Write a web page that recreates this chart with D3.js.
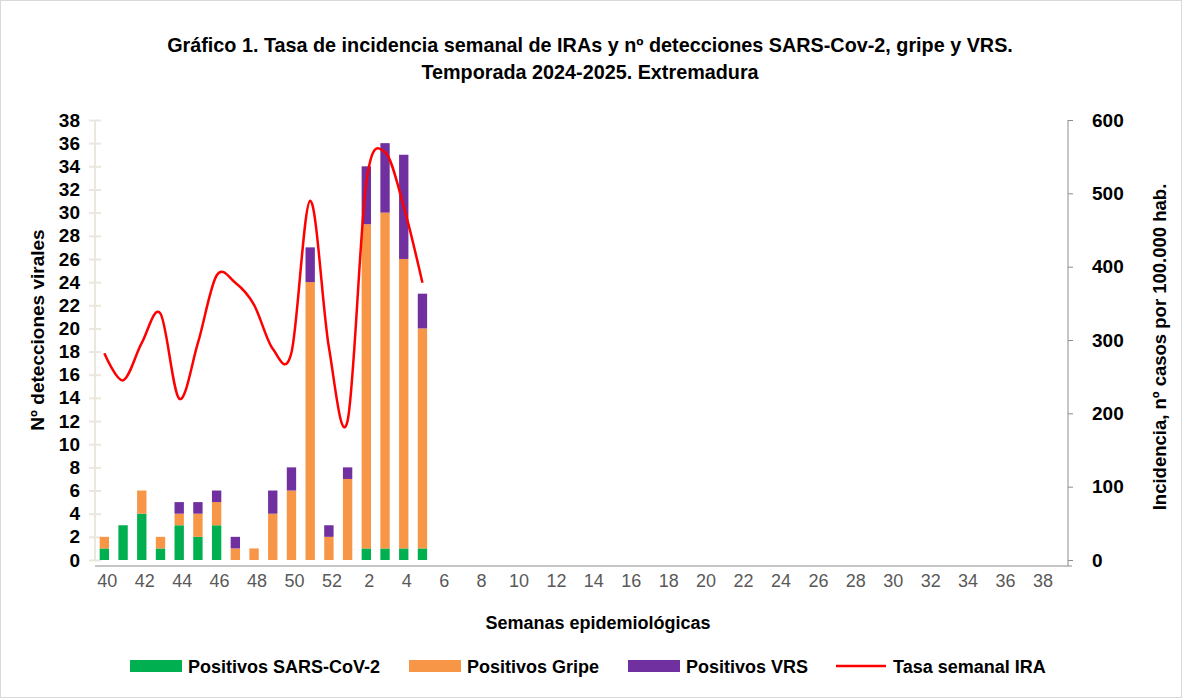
<!DOCTYPE html>
<html><head><meta charset="utf-8">
<script src="https://cdn.jsdelivr.net/npm/d3@7"></script>
<style>
html,body{margin:0;padding:0;background:#fff;}
svg{display:block;}
</style></head>
<body>
<script>
// ---- data ----
const weeks = ["40","41","42","43","44","45","46","47","48","49","50","51","52",
  "1","2","3","4","5","6","7","8","9","10","11","12","13","14","15","16","17","18","19","20",
  "21","22","23","24","25","26","27","28","29","30","31","32","33","34","35","36","37","38","39"];
const sars  = [1,3,4,1,3,2,3,0,0,0,0,0,0,0,1,1,1,1];
const gripe = [1,0,2,1,1,2,2,1,1,4,6,24,2,7,28,29,25,19];
const vrs   = [0,0,0,0,1,1,1,1,0,2,2,3,1,1,5,6,9,3];
const tasa  = [282,245,296,336,220,296,388,378,348,288,283,490,290,190,515,556,482,378];
const leftTicks = d3.range(0,40,2);
const rightTicks = [0,100,200,300,400,500,600];
const seriesNames = ["Positivos SARS-CoV-2","Positivos Gripe","Positivos VRS"];
const lineName = "Tasa semanal IRA";
const titleLines = ["Gráfico 1. Tasa de incidencia semanal de IRAs y nº detecciones SARS-Cov-2, gripe y VRS.",
                    "Temporada 2024-2025. Extremadura"];
const yLeftTitle = "Nº detecciones virales";
const yRightTitle = "Incidencia, nº casos por 100.000 hab.";
const xTitle = "Semanas epidemiológicas";

// ---- layout ----
const W = 1182, H = 698;
const colors = ["#00b050","#f79646","#7030a0"];
const lineColor = "#ff0000";
const FONT = "'Liberation Sans',Arial,sans-serif";
const x0 = 95, x1 = 1068, yTop = 120, yBot = 560;

const svg = d3.select("body").append("svg").attr("width",W).attr("height",H)
  .style("font-family",FONT);

svg.append("rect").attr("x",0.5).attr("y",0.5).attr("width",W-1).attr("height",H-1)
  .attr("fill","#fff").attr("stroke","#d9d9d9");

const x = d3.scaleBand().domain(weeks).range([x0,x1]).paddingInner(0.5).paddingOuter(0.25);
const yL = d3.scaleLinear().domain([0,38]).range([yBot,yTop]);
const yR = d3.scaleLinear().domain([0,600]).range([yBot,yTop]);

// title
svg.append("g").selectAll("text").data(titleLines).join("text")
  .attr("x",590).attr("y",(d,i)=>52+i*27).attr("text-anchor","middle")
  .attr("font-weight","bold").attr("font-size",19.8).attr("fill","#000").text(d=>d);

// left axis
const gL = svg.append("g").attr("transform",`translate(${x0},0)`)
  .call(d3.axisLeft(yL).tickValues(leftTicks).tickSize(6).tickPadding(9));
gL.select(".domain").attr("stroke","#ebe7dc").attr("stroke-width",2).attr("d",`M0,${yTop}V${yBot}`);
gL.selectAll(".tick line").attr("stroke","#ebe7dc").attr("stroke-width",2).attr("x1",6).attr("x2",-6);
gL.selectAll(".tick text").attr("font-size",19).attr("font-weight","bold").attr("fill","#000")
  .attr("font-family",FONT);

// right axis
const gR = svg.append("g").attr("transform",`translate(${x1},0)`)
  .call(d3.axisRight(yR).tickValues(rightTicks).tickSize(5).tickPadding(19));
gR.select(".domain").attr("stroke","#8c8c8c").attr("d",`M0,${yTop}V${yBot+6}`);
gR.selectAll(".tick line").attr("stroke","#8c8c8c");
gR.selectAll(".tick text").attr("font-size",19).attr("font-weight","bold").attr("fill","#000")
  .attr("font-family",FONT);

// x axis
const gX = svg.append("g").attr("transform",`translate(0,${yBot+6})`)
  .call(d3.axisBottom(x).tickValues(weeks.filter((d,i)=>i%2===0)).tickSize(0).tickPadding(8));
gX.select(".domain").attr("stroke","#8c8c8c").attr("d",`M${x0},0H${x1+4}`);
gX.selectAll(".tick text").attr("font-size",18).attr("fill","#595959").attr("dx",3)
  .attr("font-family",FONT);

// stacked bars
const rows = weeks.slice(0,sars.length).map((w,i)=>({week:w, s:sars[i], g:gripe[i], v:vrs[i]}));
const stack = d3.stack().keys(["s","g","v"])(rows);
svg.append("g").selectAll("g").data(stack).join("g").attr("fill",(d,i)=>colors[i])
  .selectAll("rect").data(d=>d.filter(p=>p[1]-p[0]>0)).join("rect")
  .attr("x",d=>x(d.data.week)).attr("width",x.bandwidth())
  .attr("y",d=>yL(d[1])).attr("height",d=>yL(d[0])-yL(d[1]));

// line
const line = d3.line().x((d,i)=>x(weeks[i])+x.bandwidth()/2).y(d=>yR(d))
  .curve(d3.curveCatmullRom.alpha(0));
svg.append("path").datum(tasa).attr("d",line).attr("fill","none")
  .attr("stroke",lineColor).attr("stroke-width",2.5);

// axis titles
svg.append("text").attr("transform",`translate(44,${330}) rotate(-90)`).attr("text-anchor","middle")
  .attr("font-weight","bold").attr("font-size",19).text(yLeftTitle);
svg.append("text").attr("transform",`translate(1166,${347}) rotate(-90)`).attr("text-anchor","middle")
  .attr("font-weight","bold").attr("font-size",18.5).text(yRightTitle);
svg.append("text").attr("x",598).attr("y",629).attr("text-anchor","middle")
  .attr("font-weight","bold").attr("font-size",18).text(xTitle);

// legend
const legX = [130,409,628,836];
const lg = svg.append("g");
seriesNames.forEach((n,i)=>{
  lg.append("rect").attr("x",legX[i]).attr("y",660).attr("width",52).attr("height",12).attr("fill",colors[i]);
  lg.append("text").attr("x",legX[i]+58).attr("y",673).attr("font-weight","bold").attr("font-size",18).text(n);
});
lg.append("line").attr("x1",legX[3]).attr("x2",legX[3]+50).attr("y1",666).attr("y2",666)
  .attr("stroke",lineColor).attr("stroke-width",2.5);
lg.append("text").attr("x",legX[3]+57).attr("y",673).attr("font-weight","bold").attr("font-size",18).text(lineName);
</script>
</body></html>
